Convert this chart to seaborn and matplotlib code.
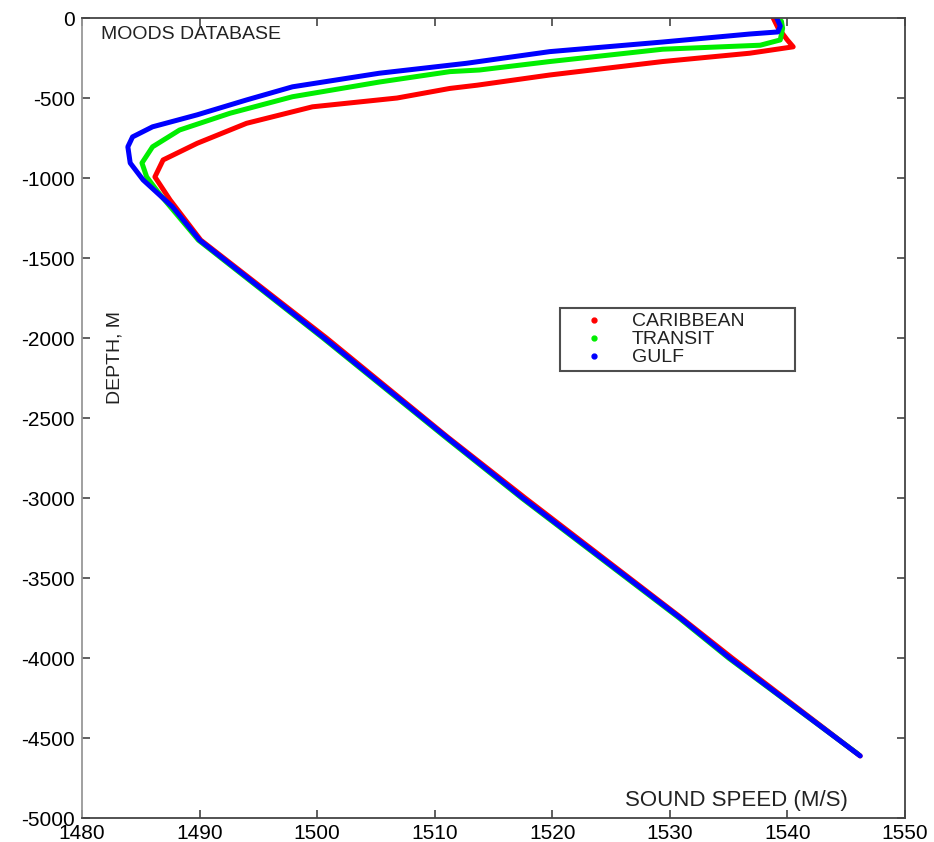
import numpy as np
import pandas as pd
import matplotlib.pyplot as plt
from matplotlib.lines import Line2D
import seaborn as sns

# sound speed profiles (depth in m, speed in m/s)
carib_depth = [0, -60, -137, -180, -220, -272, -356, -420, -440, -500, -555, -658,
               -783, -887, -993, -1138, -1388, -2000, -2619, -3000, -3750, -4000, -4612]
carib_speed = [1538.8, 1539.2, 1540.0, 1540.5, 1536.8, 1529.4, 1519.8, 1513.6, 1511.3,
               1506.8, 1499.6, 1494.0, 1489.8, 1486.9, 1486.2, 1487.5, 1490.1, 1500.8,
               1511.1, 1517.7, 1531.0, 1535.3, 1546.2]

transit_depth = [-20, -65, -137, -170, -195, -272, -325, -335, -400, -492, -595, -700,
                 -805, -906, -993, -1100, -1388, -2000, -2619, -3000, -3750, -4000, -4600]
transit_speed = [1539.5, 1539.6, 1539.4, 1537.7, 1529.4, 1519.8, 1513.8, 1511.3, 1505.3,
                 1497.9, 1492.6, 1488.3, 1486.0, 1485.1, 1485.5, 1486.6, 1489.9, 1500.5,
                 1510.9, 1517.4, 1530.8, 1535.0, 1546.0]

gulf_depth = [0, -50, -87, -100, -150, -210, -283, -345, -430, -512, -605, -680, -743,
              -805, -906, -1012, -1180, -1388, -2000, -2619, -3000, -3750,
              -4000, -4612]
gulf_speed = [1539.1, 1539.4, 1539.2, 1536.8, 1529.4, 1519.8, 1512.7, 1505.3, 1497.9,
              1494.0, 1489.8, 1486.0, 1484.3, 1483.9, 1484.1, 1485.2, 1487.7, 1490.0,
              1500.6, 1511.0, 1517.5, 1530.9, 1535.1, 1546.2]

names = ['CARIBBEAN', 'TRANSIT', 'GULF']
colors = ['#ff0000', '#00ee00', '#0000ff']

df = pd.concat([
    pd.DataFrame({'speed': carib_speed, 'depth': carib_depth, 'region': 'CARIBBEAN'}),
    pd.DataFrame({'speed': transit_speed, 'depth': transit_depth, 'region': 'TRANSIT'}),
    pd.DataFrame({'speed': gulf_speed, 'depth': gulf_depth, 'region': 'GULF'}),
], ignore_index=True)

sns.set_style('ticks')
plt.rcParams['font.family'] = ['Liberation Sans', 'DejaVu Sans']
plt.rcParams['axes.unicode_minus'] = False

fig = plt.figure(figsize=(9.34, 8.42), dpi=100)
ax = fig.add_axes([0.0878, 0.0285, 0.881, 0.9501])

for name, c in zip(names, colors):
    sns.lineplot(data=df[df['region'] == name], x='speed', y='depth', sort=False,
                 estimator=None, color=c, lw=3.6, ax=ax, legend=False)

ax.set_xlim(1480, 1550)
ax.set_ylim(-5000, 0)
ax.set_xticks(np.arange(1480, 1551, 10))
ax.set_yticks(np.arange(-5000, 1, 500))
ax.set_xlabel('')
ax.set_ylabel('')
ax.tick_params(direction='in', top=True, right=True, length=6, width=1.2,
               labelsize=15, colors='#444', labelcolor='black')
ax.tick_params(axis='y', pad=5)
ax.tick_params(axis='x', pad=4)
for s in ax.spines.values():
    s.set_color('#444')
    s.set_linewidth(1.3)
ax.spines['left'].set_color('#999')

ax.text(0.023, 0.979, 'MOODS DATABASE', transform=ax.transAxes, fontsize=14,
        va='center', ha='left', color='#222')
ax.text(0.66, 0.0225, 'SOUND SPEED (M/S)', transform=ax.transAxes, fontsize=16,
        va='center', ha='left', color='#222')
ax.text(0.04, 0.576, 'DEPTH, M', transform=ax.transAxes, fontsize=14,
        rotation=90, va='center', ha='center', color='#222')

handles = [Line2D([], [], ls='', marker='o', markersize=3.5, color=c) for c in colors]
leg = ax.legend(handles, names, loc='upper left',
                bbox_to_anchor=(0.581, 0.561, 0.285, 0.0765), mode='expand',
                borderaxespad=0, fontsize=14, frameon=True, fancybox=False,
                handlelength=3.0, handletextpad=0.45, labelspacing=0.02,
                borderpad=0.25, edgecolor='#222')
leg.get_frame().set_linewidth(1.5)
for t in leg.get_texts():
    t.set_color('#222')

fig.savefig('out.png', dpi=100)
